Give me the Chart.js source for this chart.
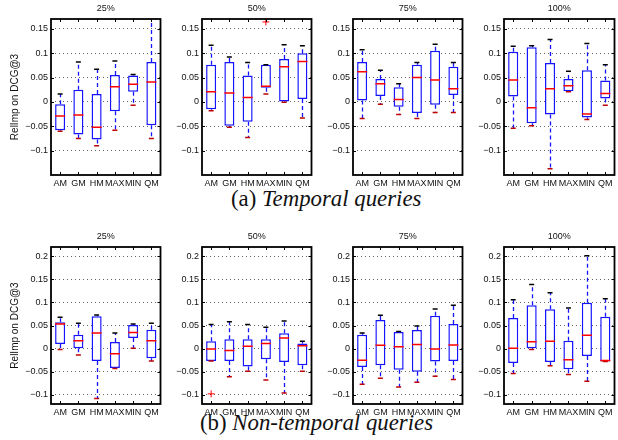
<!DOCTYPE html>
<html lang="en">
<head>
  <meta charset="UTF-8" />
  <title>RelImp on DCG@3</title>
  <script src="https://cdn.jsdelivr.net/npm/chart.js@4.4.0/dist/chart.umd.min.js"></script>
  <style>
    body { margin: 0; width: 618px; height: 440px; overflow: hidden; background: #fff; position: relative; }
    .panel { position: absolute; }
    .panel canvas { display: block; }
    .caption { position: absolute; white-space: nowrap; font-family: "Liberation Serif", "DejaVu Serif", serif;
               font-size: 22.8px; line-height: 22.8px; color: #111; }
  </style>
</head>
<body>
  <div class="caption" style="left:231px; top:187.5px;">(a) <i>Temporal queries</i></div>
  <div class="caption" style="left:200px; top:412px;">(b) <i>Non-temporal queries</i></div>

<script>
  const categories = ['AM', 'GM', 'HM', 'MAX', 'MIN', 'QM'];
  const panelTitles = ['25%', '50%', '75%', '100%'];

  const yTicksTemporal = [-0.1, -0.05, 0, 0.05, 0.1, 0.15];
  const yRangeTemporal = [-0.15, 0.17];
  const yTicksNonTemporal = [-0.1, -0.05, 0, 0.05, 0.1, 0.15, 0.2];
  const yRangeNonTemporal = [-0.12, 0.22];

  // one row per category: [lower whisker, q1, median, q3, upper whisker]
  const temporal25 = [
    [-0.060, -0.058, -0.029, -0.005, 0.016],
    [-0.075, -0.067, -0.027, 0.025, 0.082],
    [-0.090, -0.077, -0.052, 0.016, 0.067],
    [-0.058, -0.019, 0.031, 0.055, 0.084],
    [-0.007, 0.021, 0.036, 0.054, 0.056],
    [-0.075, -0.048, 0.041, 0.082, 0.175]
  ];
  const temporal50 = [
    [-0.018, -0.015, 0.021, 0.076, 0.116],
    [-0.052, -0.049, 0.018, 0.082, 0.092],
    [-0.073, -0.041, 0.009, 0.054, 0.081],
    [0.016, 0.029, 0.032, 0.076, 0.076],
    [-0.001, 0.001, 0.072, 0.088, 0.117],
    [-0.033, 0.006, 0.083, 0.100, 0.115]
  ];
  const temporal75 = [
    [-0.034, 0.003, 0.062, 0.082, 0.107],
    [-0.005, 0.012, 0.037, 0.047, 0.065],
    [-0.026, -0.010, 0.005, 0.030, 0.037],
    [-0.034, -0.023, 0.050, 0.076, 0.081],
    [-0.022, -0.006, 0.045, 0.105, 0.118],
    [-0.022, 0.014, 0.027, 0.072, 0.081]
  ];
  const temporal100 = [
    [-0.054, 0.011, 0.045, 0.103, 0.114],
    [-0.049, -0.044, -0.012, 0.112, 0.115],
    [-0.137, -0.026, 0.027, 0.080, 0.128],
    [0.021, 0.022, 0.033, 0.047, 0.063],
    [-0.036, -0.032, -0.025, 0.065, 0.120],
    [-0.007, 0.007, 0.017, 0.044, 0.076]
  ];
  const nonTemporal25 = [
    [-0.002, 0.010, 0.053, 0.057, 0.068],
    [-0.014, 0.001, 0.017, 0.030, 0.055],
    [-0.108, -0.027, 0.034, 0.070, 0.073],
    [-0.043, -0.042, -0.011, 0.014, 0.034],
    [0.001, 0.023, 0.035, 0.051, 0.053],
    [-0.027, -0.021, 0.017, 0.041, 0.055]
  ];
  const nonTemporal50 = [
    [-0.027, -0.027, -0.001, 0.016, 0.052],
    [-0.061, -0.027, -0.004, 0.020, 0.058],
    [-0.049, -0.039, 0.005, 0.020, 0.052],
    [-0.068, -0.023, 0.011, 0.020, 0.046],
    [-0.096, -0.029, 0.023, 0.033, 0.060],
    [-0.049, -0.036, 0.006, 0.011, 0.016]
  ];
  const nonTemporal75 = [
    [-0.077, -0.040, -0.025, 0.030, 0.034],
    [-0.064, -0.036, 0.007, 0.062, 0.072],
    [-0.083, -0.046, 0.004, 0.036, 0.037],
    [-0.073, -0.050, 0.009, 0.040, 0.049],
    [-0.060, -0.028, -0.001, 0.071, 0.086],
    [-0.067, -0.027, 0.008, 0.053, 0.094]
  ];
  const nonTemporal100 = [
    [-0.054, -0.031, 0.001, 0.066, 0.106],
    [-0.002, 0.001, 0.015, 0.094, 0.139],
    [-0.037, -0.029, 0.016, 0.085, 0.121],
    [-0.056, -0.045, -0.024, 0.017, 0.088],
    [-0.071, -0.016, 0.029, 0.099, 0.201],
    [-0.028, -0.028, -0.026, 0.069, 0.108]
  ];
  // outliers: [panel index, category, value]
  const temporalOutliers = [[1, 'MAX', 0.164]];
  const nonTemporalOutliers = [[1, 'AM', -0.098]];

  const temporalPanels = [temporal25, temporal50, temporal75, temporal100];
  const nonTemporalPanels = [nonTemporal25, nonTemporal50, nonTemporal75, nonTemporal100];

  const BLUE = 'rgb(20, 20, 255)';
  const RED = 'rgb(255, 0, 0)';
  const plotLefts = [51, 202, 353, 504];
  const plotWidth = 114;

  Chart.defaults.font.family = "'Liberation Sans', Arial, Helvetica, sans-serif";
  Chart.defaults.color = '#111';

  // black frame round the plot, inward ticks like matlab, and the panel title over the plot
  const framePlugin = {
    id: 'frame',
    afterDraw(chart) {
      const {ctx, chartArea: a, scales: {x, y}} = chart;
      ctx.save();
      ctx.strokeStyle = '#000';
      ctx.lineWidth = 1;
      y.ticks.forEach(t => {
        const py = Math.round(y.getPixelForValue(t.value)) + 0.5;
        ctx.beginPath();
        ctx.moveTo(a.left, py); ctx.lineTo(a.left + 3, py);
        ctx.moveTo(a.right, py); ctx.lineTo(a.right - 3, py);
        ctx.stroke();
      });
      categories.forEach((c, i) => {
        const px = Math.round(x.getPixelForValue(i)) + 0.5;
        ctx.beginPath();
        ctx.moveTo(px, a.top); ctx.lineTo(px, a.top + 3);
        ctx.moveTo(px, a.bottom); ctx.lineTo(px, a.bottom - 3);
        ctx.stroke();
      });
      ctx.lineWidth = 1.8;
      ctx.strokeRect(a.left, a.top, a.right - a.left, a.bottom - a.top);

      const title = chart.options.plugins.frame.title;
      if (title) {
        ctx.fillStyle = '#111';
        ctx.font = "9px 'Liberation Sans', Arial, sans-serif";
        ctx.textAlign = 'center';
        ctx.textBaseline = 'middle';
        ctx.fillText(title, (a.left + a.right) / 2, a.top - 10.5);
      }
      ctx.restore();
    }
  };
  Chart.register(framePlugin);

  function whiskers(stats) {
    return {
      id: 'whiskers',
      beforeDatasetsDraw(chart) {
        const {ctx, chartArea: a, scales: {x, y}} = chart;
        ctx.save();
        ctx.beginPath();
        ctx.rect(a.left, a.top, a.right - a.left, a.bottom - a.top);
        ctx.clip();
        ctx.strokeStyle = BLUE;
        ctx.lineWidth = 1.3;
        ctx.setLineDash([4, 3]);
        stats.forEach((s, i) => {
          const px = Math.round(x.getPixelForValue(i)) + 0.5;
          ctx.beginPath();
          ctx.moveTo(px, y.getPixelForValue(s[3]));
          ctx.lineTo(px, y.getPixelForValue(s[4]));
          ctx.moveTo(px, y.getPixelForValue(s[1]));
          ctx.lineTo(px, y.getPixelForValue(s[0]));
          ctx.stroke();
        });
        ctx.restore();
      }
    };
  }

  function makePanel(row, col, stats, outliers) {
    const axisWidth = col === 0 ? 51 : 38;
    const width = col === 3 ? plotWidth + 1 : plotWidth;
    const top = row === 0 ? 0 : 228;
    const height = row === 0 ? 195 : 196;
    const yTicks = row === 0 ? yTicksTemporal : yTicksNonTemporal;
    const yRange = row === 0 ? yRangeTemporal : yRangeNonTemporal;

    const wrap = document.createElement('div');
    wrap.className = 'panel';
    wrap.style.left = (plotLefts[col] - axisWidth) + 'px';
    wrap.style.top = top + 'px';
    const canvas = document.createElement('canvas');
    canvas.width = axisWidth + width + 2;
    canvas.height = height;
    wrap.appendChild(canvas);
    document.body.appendChild(wrap);

    const pointSet = (data, color, radius, style, order) => ({
      type: 'line', data: data, showLine: false, order: order,
      pointStyle: style, pointRadius: radius, pointBorderColor: color,
      pointBorderWidth: 1.5, borderColor: color, backgroundColor: color
    });

    new Chart(canvas, {
      type: 'bar',
      data: {
        labels: categories,
        datasets: [
          {
            data: stats.map(s => [s[1], s[3]]),
            backgroundColor: '#fff',
            borderColor: BLUE,
            borderWidth: 1.5,
            borderSkipped: false,
            barPercentage: 0.55,
            categoryPercentage: 1,
            order: 5
          },
          pointSet(stats.map(s => s[4]), '#000', 2.5, 'line', 3),
          pointSet(stats.map(s => s[0]), 'rgb(190, 0, 0)', 2.5, 'line', 3),
          pointSet(stats.map(s => s[2]), RED, 5, 'line', 1),
          Object.assign(pointSet(outliers.map(o => ({x: o[0], y: o[1]})), RED, 3.5, 'cross', 0),
                        {pointBorderWidth: 1})
        ]
      },
      options: {
        responsive: false,
        animation: false,
        events: [],
        layout: { padding: { top: 19, right: 2 } },
        plugins: {
          legend: { display: false },
          tooltip: { enabled: false },
          frame: { title: panelTitles[col] }
        },
        scales: {
          x: {
            grid: { display: false, drawTicks: false },
            border: { display: false },
            ticks: { autoSkip: false, maxRotation: 0, minRotation: 0, padding: 3, font: { size: 9 } },
            afterFit: scale => { scale.height = 20; }
          },
          y: {
            min: yRange[0], max: yRange[1],
            grid: { color: '#666', lineWidth: 1, drawTicks: false },
            border: { display: false, dash: [1, 3] },
            ticks: {
              padding: 3, font: { size: 9 },
              callback: v => v === 0 ? '0' : (v < 0 ? '\u2212' : '') + Math.abs(v)
            },
            afterBuildTicks: scale => { scale.ticks = yTicks.map(v => ({ value: v })); },
            title: {
              display: col === 0, text: 'RelImp on DCG@3',
              font: { size: 10 }, padding: { top: 9, bottom: 0 }
            },
            afterFit: scale => { scale.width = axisWidth; }
          }
        }
      },
      plugins: [whiskers(stats)]
    });
  }

  temporalPanels.forEach((stats, col) => {
    const outs = temporalOutliers.filter(o => o[0] === col).map(o => [o[1], o[2]]);
    makePanel(0, col, stats, outs);
  });
  nonTemporalPanels.forEach((stats, col) => {
    const outs = nonTemporalOutliers.filter(o => o[0] === col).map(o => [o[1], o[2]]);
    makePanel(1, col, stats, outs);
  });
</script>
</body>
</html>
